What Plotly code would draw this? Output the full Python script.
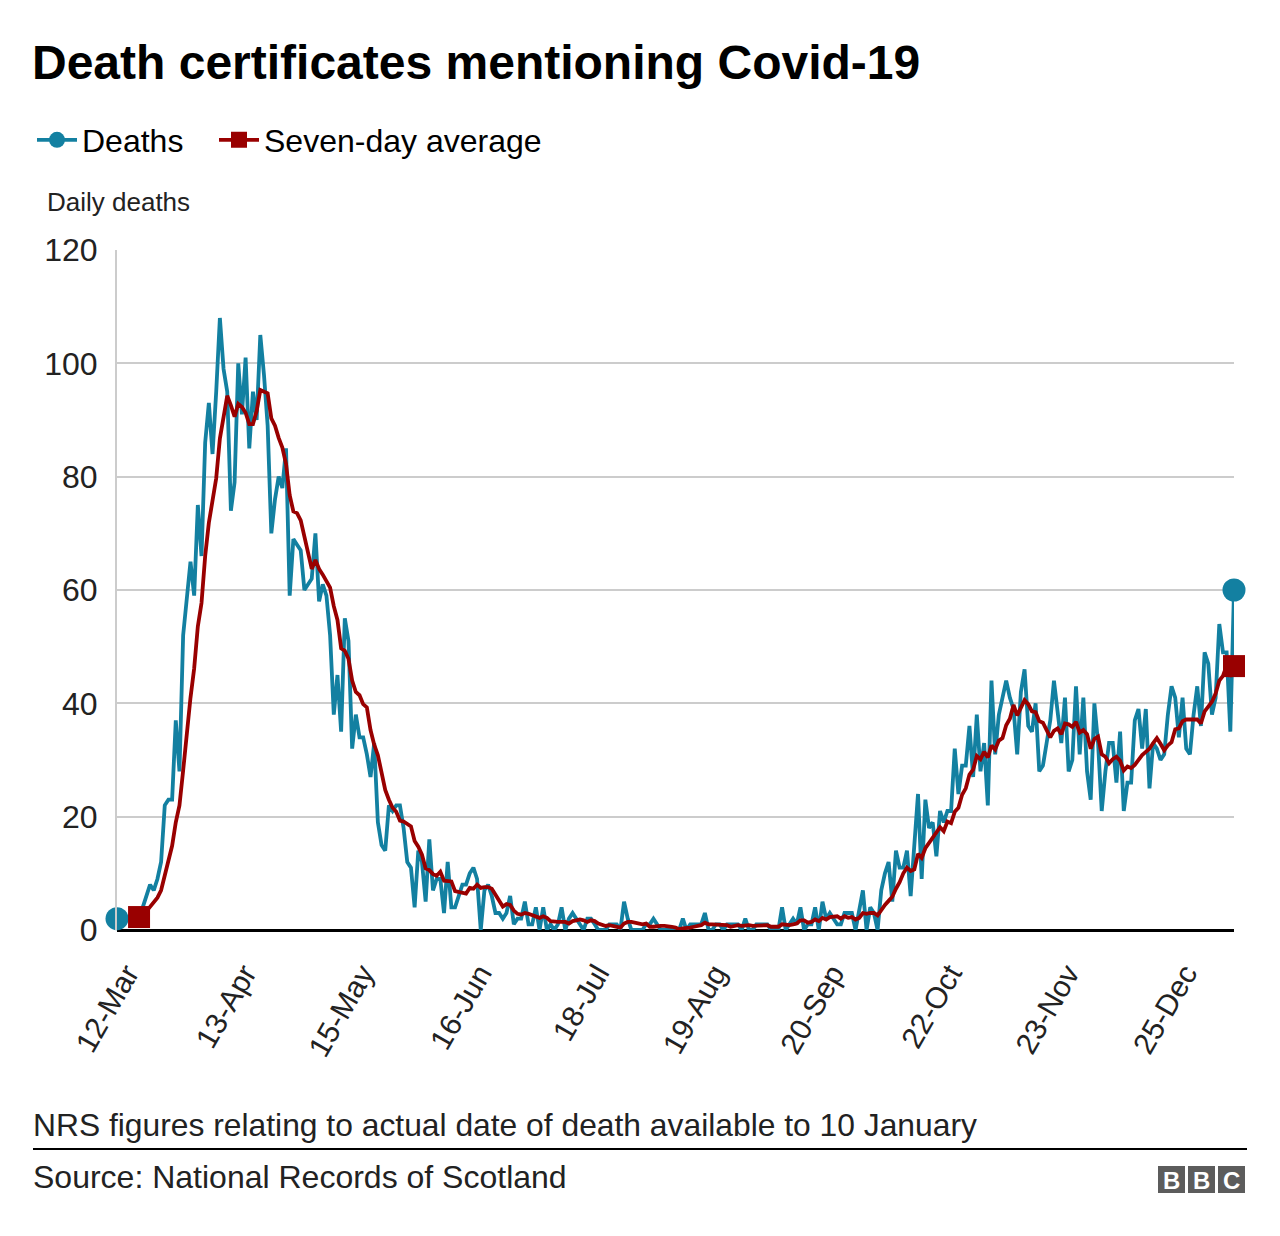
import plotly.graph_objects as go
import pandas as pd

# ---------------- data ----------------
start_date = "2020-03-12"

deaths = [
    2, 1, 2, 2, 3, 3, 3, 4, 6, 8,
    7, 9, 12, 22, 23, 23, 37, 28, 52, 59,
    65, 59, 75, 66, 86, 93, 84, 95, 108, 99,
    95, 74, 79, 100, 91, 101, 85, 95, 90, 105,
    98, 89, 70, 76, 80, 78, 85, 59, 69, 68,
    67, 60, 61, 62, 70, 58, 61, 59, 52, 38,
    45, 35, 55, 51, 32, 38, 34, 34, 31, 27,
    33, 19, 15, 14, 22, 21, 22, 22, 18, 12,
    11, 4, 14, 12, 5, 16, 7, 9, 9, 3,
    12, 4, 4, 6, 8, 8, 10, 11, 9, 0,
    7, 8, 6, 3, 3, 2, 3, 6, 1, 2,
    2, 5, 1, 1, 4, 0, 4, 0, 1, 0,
    1, 4, 0, 2, 3, 2, 1, 0, 2, 2,
    1, 0, 0, 0, 1, 1, 1, 0, 5, 2,
    0, 0, 0, 0, 1, 1, 2, 1, 0, 0,
    0, 0, 0, 0, 2, 0, 1, 1, 1, 1,
    3, 0, 0, 1, 1, 0, 1, 1, 1, 1,
    0, 2, 0, 0, 1, 1, 1, 1, 0, 0,
    0, 4, 0, 1, 2, 1, 4, 0, 1, 1,
    4, 0, 5, 2, 3, 2, 1, 1, 3, 3,
    3, 0, 4, 7, 0, 4, 3, 0, 7, 10,
    12, 5, 14, 11, 11, 14, 6, 14, 24, 9,
    23, 18, 19, 13, 21, 19, 21, 21, 32, 24,
    29, 29, 36, 27, 38, 28, 33, 22, 44, 31,
    38, 41, 44, 41, 39, 31, 42, 46, 36, 35,
    40, 28, 29, 33, 37, 44, 38, 33, 41, 28,
    30, 43, 31, 41, 28, 23, 40, 33, 21, 28,
    33, 33, 26, 35, 21, 26, 26, 37, 39, 32,
    39, 25, 33, 32, 30, 31, 38, 43, 41, 34,
    41, 32, 31, 38, 43, 36, 49, 47, 38, 41,
    54, 49, 49, 35, 60,
]

tick_dates = ["2020-03-12", "2020-04-13", "2020-05-15", "2020-06-16", "2020-07-18",
              "2020-08-19", "2020-09-20", "2020-10-22", "2020-11-23", "2020-12-25"]
tick_labels = ["12-Mar", "13-Apr", "15-May", "16-Jun", "18-Jul",
               "19-Aug", "20-Sep", "22-Oct", "23-Nov", "25-Dec"]
y_ticks = [0, 20, 40, 60, 80, 100, 120]

dates = pd.date_range(start_date, periods=len(deaths), freq="D")
# seven-day (trailing) average of the daily deaths
avg_series = pd.Series(deaths, dtype=float).rolling(7).mean()
avg_dates = dates[6:]
avg_vals = avg_series.iloc[6:].tolist()

# ---------------- style ----------------
BLUE = "#1380A1"
RED = "#990000"
TXT = "#222222"
FONT = "Liberation Sans, Arial, sans-serif"

W, H = 1280, 1236
L, R, T, B = 117, 46, 250, 306
PW, PH = W - L - R, H - T - B


def px(xp):
    return (xp - L) / PW


def py(yp):
    return (H - B - yp) / PH


fig = go.Figure()

fig.add_trace(go.Scatter(x=dates, y=deaths, mode="lines", name="Deaths",
                         line=dict(color=BLUE, width=3.8), showlegend=False,
                         cliponaxis=False))
fig.add_trace(go.Scatter(x=avg_dates, y=avg_vals, mode="lines", name="Seven-day average",
                         line=dict(color=RED, width=3.8), showlegend=False,
                         cliponaxis=False))
# end-point markers
fig.add_trace(go.Scatter(x=[dates[0], dates[-1]], y=[deaths[0], deaths[-1]], mode="markers",
                         name="Deaths", marker=dict(symbol="circle", size=23, color=BLUE),
                         showlegend=False, cliponaxis=False))
fig.add_trace(go.Scatter(x=[avg_dates[0], avg_dates[-1]], y=[avg_vals[0], avg_vals[-1]],
                         mode="markers", name="Seven-day average",
                         marker=dict(symbol="square", size=22, color=RED),
                         showlegend=False, cliponaxis=False))
# legend entries
fig.add_trace(go.Scatter(x=[None], y=[None], mode="lines+markers", name="Deaths",
                         line=dict(color=BLUE, width=3.8), legendwidth=127,
                         marker=dict(symbol="circle", size=22, color=BLUE)))
fig.add_trace(go.Scatter(x=[None], y=[None], mode="lines+markers", name="Seven-day average",
                         line=dict(color=RED, width=3.8),
                         marker=dict(symbol="square", size=22, color=RED)))

annotations = [
    dict(text="Daily deaths", x=px(45), y=py(202), xref="paper", yref="paper",
         xanchor="left", yanchor="middle", showarrow=False,
         font=dict(family=FONT, size=26, color=TXT)),
    dict(text="NRS figures relating to actual date of death available to 10 January",
         x=px(31), y=py(1125), xref="paper", yref="paper",
         xanchor="left", yanchor="middle", showarrow=False,
         font=dict(family=FONT, size=31.8, color=TXT)),
    dict(text="Source: National Records of Scotland",
         x=px(31), y=py(1177), xref="paper", yref="paper",
         xanchor="left", yanchor="middle", showarrow=False,
         font=dict(family=FONT, size=32, color=TXT)),
]

shapes = [
    dict(type="line", xref="paper", yref="paper", x0=px(33), x1=px(1247),
         y0=py(1149), y1=py(1149), line=dict(color="#000000", width=2)),
]

# BBC logo blocks
for i, letter in enumerate(["B", "B", "C"]):
    x0 = 1158 + i * 30
    shapes.append(dict(type="rect", xref="paper", yref="paper",
                       x0=px(x0), x1=px(x0 + 27), y0=py(1193), y1=py(1166),
                       fillcolor="#5c5c5c", line=dict(width=0)))
    annotations.append(dict(text="<b>%s</b>" % letter, x=px(x0 + 13.5), y=py(1180),
                            xref="paper", yref="paper", xanchor="center", yanchor="middle",
                            showarrow=False, font=dict(family=FONT, size=24, color="white")))

fig.update_layout(
    width=W, height=H,
    margin=dict(l=L, r=R, t=T, b=B, pad=0),
    paper_bgcolor="white", plot_bgcolor="white",
    font=dict(family=FONT, color=TXT),
    title=dict(text="<b>Death certificates mentioning Covid-19</b>",
               x=32 / W, xanchor="left", xref="container",
               y=1 - 62 / H, yanchor="middle", yref="container",
               font=dict(family=FONT, size=48, color="#000000")),
    legend=dict(orientation="h", xref="container", yref="container",
                x=32 / W, xanchor="left", y=1 - 140 / H, yanchor="middle",
                font=dict(family=FONT, size=32, color="#000000"),
                itemwidth=40, traceorder="normal", bgcolor="rgba(0,0,0,0)"),
    xaxis=dict(type="date", range=[dates[0], dates[-1]],
               tickmode="array", tickvals=tick_dates, ticktext=tick_labels,
               tickangle=-60, tickfont=dict(family=FONT, size=30, color=TXT),
               showgrid=False, zeroline=False, showline=False, ticks="",
               ticklabelstandoff=19, ticklabelshift=10, fixedrange=True),
    yaxis=dict(range=[0, 120], tickmode="array", tickvals=y_ticks,
               tickfont=dict(family=FONT, size=32, color=TXT),
               showgrid=True, gridcolor="#cccccc", gridwidth=2,
               showline=True, linecolor="#cccccc", linewidth=2,
               zeroline=True, zerolinecolor="#000000", zerolinewidth=3,
               ticks="", ticklabelstandoff=11, fixedrange=True),
    annotations=annotations,
    shapes=shapes,
    showlegend=True,
)

fig.write_html("out.html", config={"displayModeBar": False},
               post_script="document.body.style.margin='0px';")
